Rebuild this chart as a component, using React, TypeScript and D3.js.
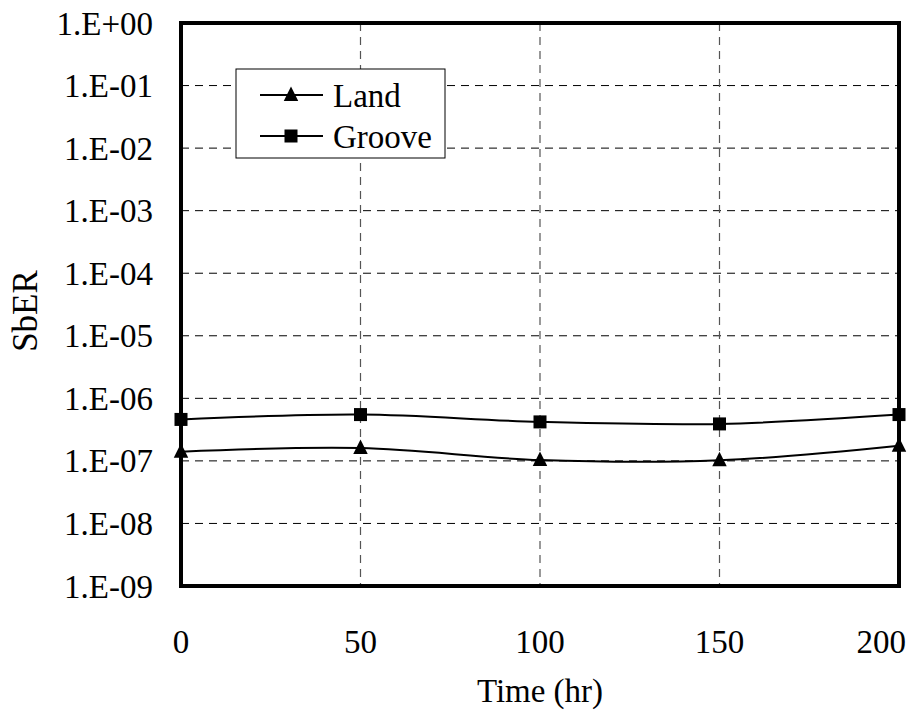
import React from "react";
import * as d3 from "d3";

// values
const times = [0, 50, 100, 150, 200];
const land = [1.4e-7, 1.6e-7, 1.03e-7, 1.02e-7, 1.75e-7];
const groove = [4.6e-7, 5.5e-7, 4.2e-7, 3.9e-7, 5.5e-7];
const xTicks = [0, 50, 100, 150, 200];
const yTicks = [1e0, 1e-1, 1e-2, 1e-3, 1e-4, 1e-5, 1e-6, 1e-7, 1e-8, 1e-9];
const yTickLabels = ["1.E+00", "1.E-01", "1.E-02", "1.E-03", "1.E-04", "1.E-05", "1.E-06", "1.E-07", "1.E-08", "1.E-09"];

const W = 920, H = 715;
const left = 181, right = 899, top = 23, bottom = 586;
const font = "'Liberation Serif', 'Times New Roman', serif";
const fs = 33;

export default function App() {
  const x = d3.scaleLinear().domain([0, 200]).range([left, right]);
  const y = d3.scaleLog().domain([1e-9, 1]).range([bottom, top]);

  const line = d3.line<number>()
    .x((d, i) => x(times[i]))
    .y(d => y(d))
    .curve(d3.curveCatmullRom.alpha(0.5));

  const tri = (cx: number, cy: number, s: number) =>
    `M${cx},${cy - s}L${cx + s * 0.85},${cy + s * 0.7}L${cx - s * 0.85},${cy + s * 0.7}Z`;

  // excel pushes the last label inward so it stays inside the chart area
  const labelX = (t: number) => {
    const w = String(t).length * fs * 0.5;
    return Math.min(x(t), 906 - w / 2);
  };

  return (
    <svg width={W} height={H} style={{ display: "block", position: "absolute", left: 0, top: 0 }}>
      <rect width={W} height={H} fill="white" />
      {/* grid */}
      {yTicks.slice(1, -1).map(t => (
        <line key={"gy" + t} x1={left} x2={right} y1={y(t)} y2={y(t)} stroke="#000" strokeWidth={1} strokeDasharray="8,6" />
      ))}
      {xTicks.slice(1, -1).map(t => (
        <line key={"gx" + t} x1={x(t)} x2={x(t)} y1={top} y2={bottom} stroke="#555" strokeWidth={1.2} strokeDasharray="8,6" />
      ))}

      {/* series */}
      <path d={line(groove) || ""} fill="none" stroke="#000" strokeWidth={2} />
      <path d={line(land) || ""} fill="none" stroke="#000" strokeWidth={2} />
      {groove.map((v, i) => (
        <rect key={"g" + i} x={x(times[i]) - 6.5} y={y(v) - 6.5} width={13} height={13} fill="#000" />
      ))}
      {land.map((v, i) => (
        <path key={"l" + i} d={tri(x(times[i]), y(v), 8.5)} fill="#000" />
      ))}

      {/* plot frame */}
      <rect x={left} y={top} width={right - left} height={bottom - top} fill="none" stroke="#000" strokeWidth={4} />

      {/* y tick labels */}
      {yTicks.map((t, i) => (
        <text key={"yt" + t} x={153} y={y(t)} dy="0.35em" textAnchor="end" fontFamily={font} fontSize={fs}>{yTickLabels[i]}</text>
      ))}
      {/* x tick labels */}
      {xTicks.map(t => (
        <text key={"xt" + t} x={labelX(t)} y={641} dy="0.35em" textAnchor="middle" fontFamily={font} fontSize={fs}>{t}</text>
      ))}
      <text x={(left + right) / 2} y={690} dy="0.35em" textAnchor="middle" fontFamily={font} fontSize={fs}>Time (hr)</text>
      <text transform={`translate(25,311) rotate(-90)`} dy="0.35em" textAnchor="middle" fontFamily={font} fontSize={35}>SbER</text>

      {/* legend */}
      <rect x={236} y={69} width={209} height={89} fill="white" stroke="#000" strokeWidth={1} />
      <line x1={260} x2={323} y1={95} y2={95} stroke="#000" strokeWidth={2} />
      <path d={tri(291, 95, 8.5)} fill="#000" />
      <text x={333} y={95} dy="0.35em" fontFamily={font} fontSize={fs}>Land</text>
      <line x1={260} x2={323} y1={136} y2={136} stroke="#000" strokeWidth={2} />
      <rect x={284.5} y={129.5} width={13} height={13} fill="#000" />
      <text x={333} y={136} dy="0.35em" fontFamily={font} fontSize={fs}>Groove</text>
    </svg>
  );
}
